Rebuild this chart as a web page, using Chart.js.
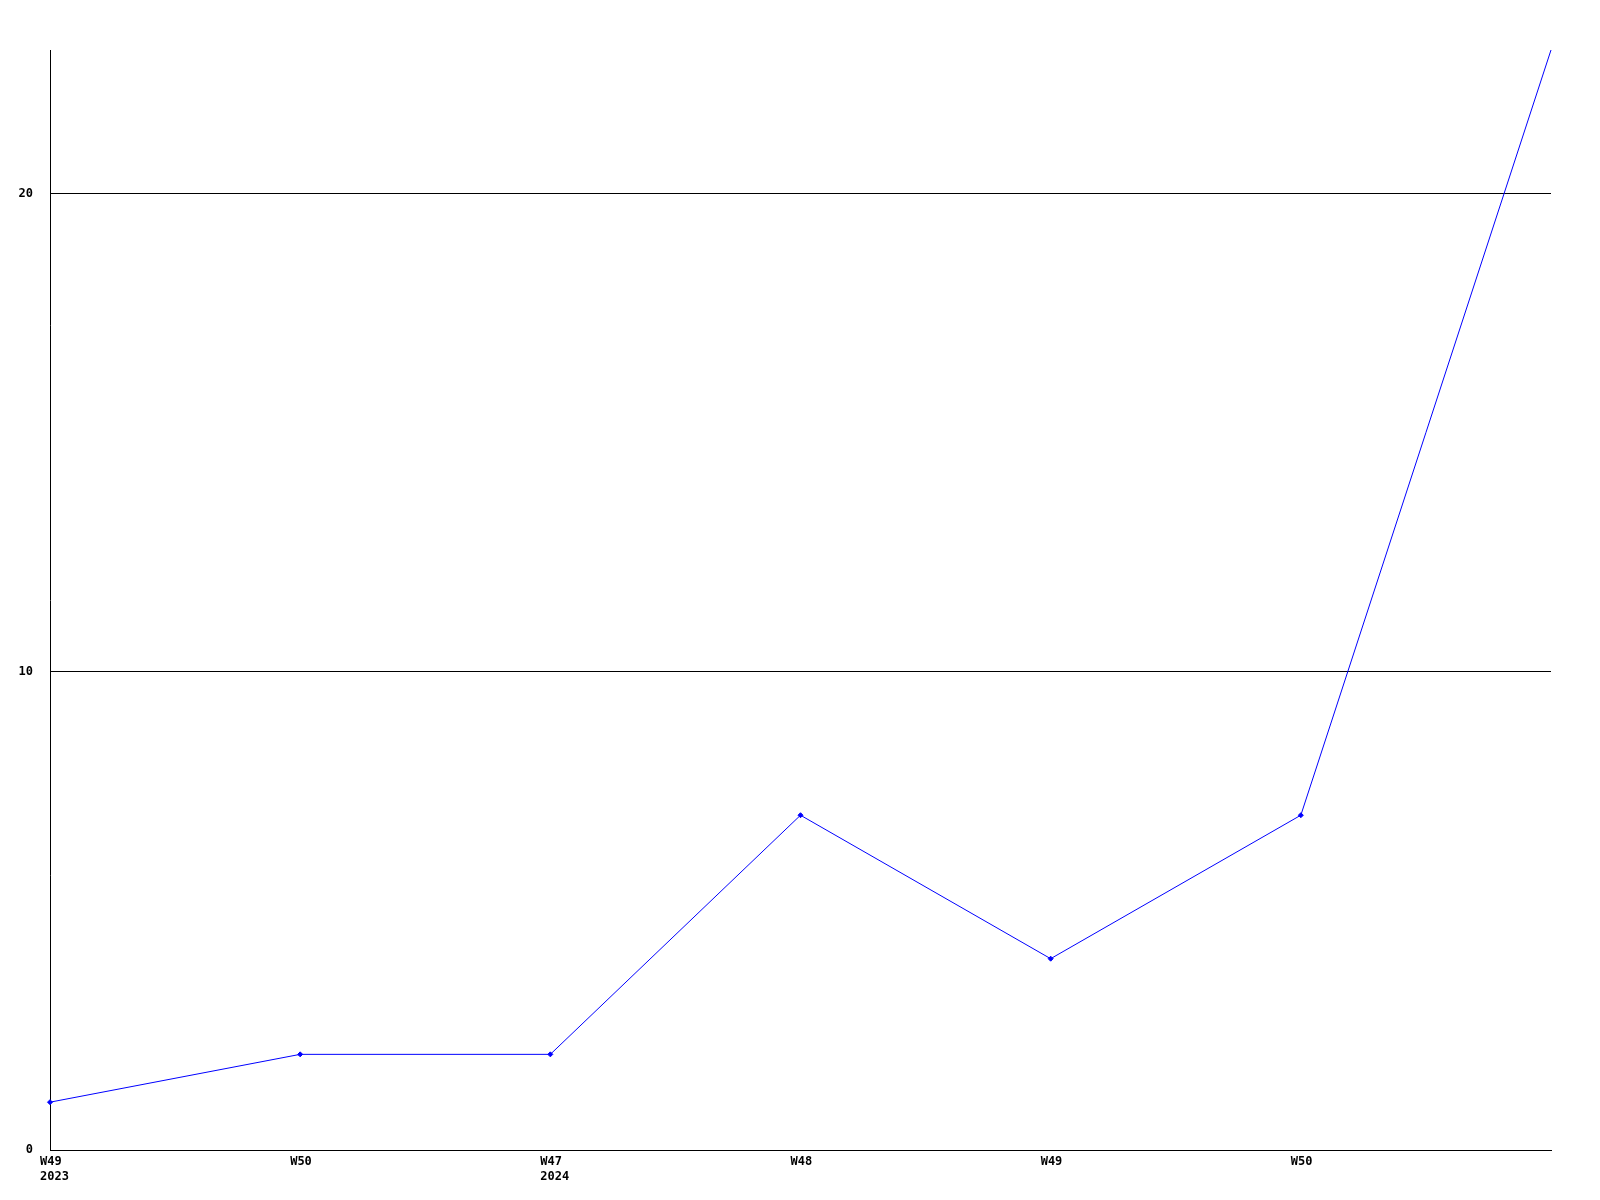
<!DOCTYPE html>
<html>
<head>
<meta charset="utf-8">
<title>Weekly count</title>
<script src="https://cdn.jsdelivr.net/npm/chart.js@4"></script>
<style>
  body { margin: 0; background: #fff; }
  canvas { display: block; }
</style>
</head>
<body>
<canvas id="chart" width="1600" height="1200"></canvas>
<script>
const weeks = [["W49", "2023"], "W50", ["W47", "2024"], "W48", "W49", "W50", ""];
const counts = [1, 2, 2, 7, 4, 7, 23];
const yMax = 23;
const yStep = 10;

const tickFont = { family: "'DejaVu Sans Mono', monospace", size: 12, weight: "bold", lineHeight: 1.25 };

new Chart(document.getElementById("chart"), {
  type: "line",
  data: {
    labels: weeks,
    datasets: [
      {
        data: counts,
        borderColor: "#0000ff",
        backgroundColor: "#0000ff",
        borderWidth: 1,
        pointStyle: "rectRot",
        // the top point sits on the plot edge and is cut off there
        pointRadius: (ctx) => (ctx.parsed && ctx.parsed.y >= yMax ? 0 : 2.5),
        pointBorderWidth: 1,
        tension: 0,
        fill: false,
      },
    ],
  },
  options: {
    responsive: false,
    animation: false,
    layout: { padding: { top: 50, right: 49, left: 0, bottom: 0 } },
    plugins: {
      legend: { display: false },
      tooltip: { enabled: false },
    },
    scales: {
      x: {
        offset: false,
        grid: { display: false, drawTicks: false },
        border: { display: true, color: "#000", width: 1 },
        ticks: {
          color: "#000",
          font: tickFont,
          padding: 4,
          align: "start",
          labelOffset: -10,
          autoSkip: false,
          maxRotation: 0,
        },
        afterFit: (scale) => { scale.height = 50; },
      },
      y: {
        min: 0,
        max: yMax,
        grid: { color: "#000", lineWidth: 1, drawTicks: false },
        border: { display: true, color: "#000", width: 1 },
        ticks: {
          stepSize: yStep,
          includeBounds: false,
          color: "#000",
          font: tickFont,
          padding: 17,
        },
        afterFit: (scale) => { scale.width = 50; },
      },
    },
  },
});
</script>
</body>
</html>
